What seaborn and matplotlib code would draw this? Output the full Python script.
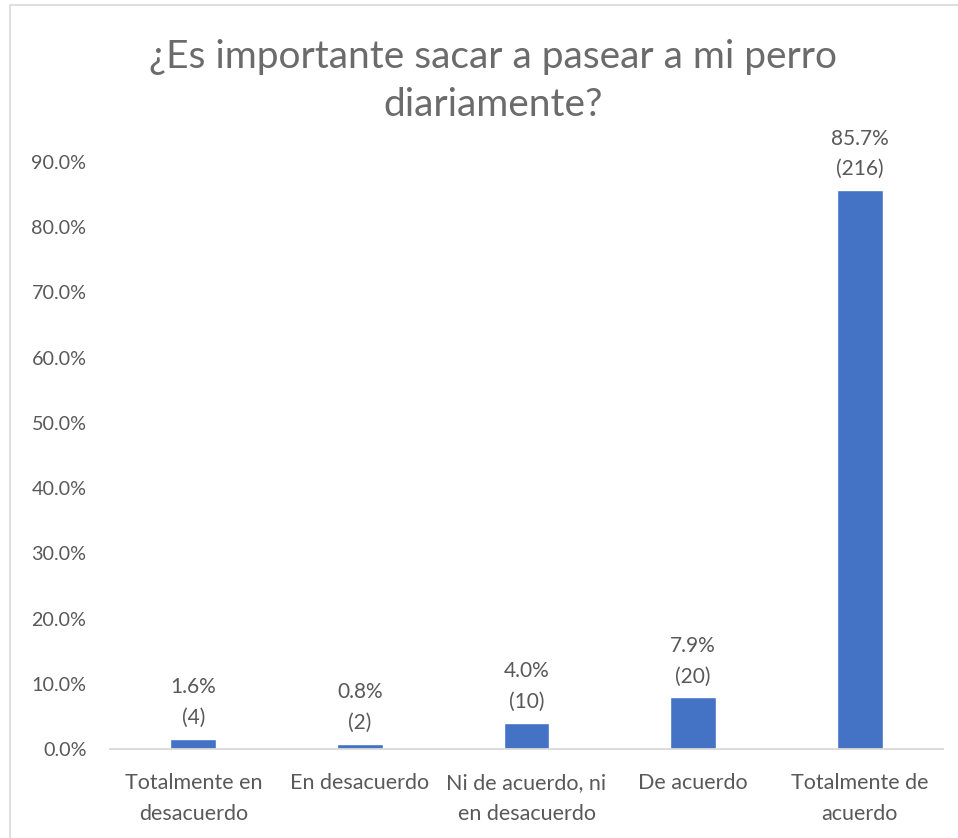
import numpy as np
import pandas as pd
import matplotlib
matplotlib.use('Agg')
import matplotlib.pyplot as plt
import matplotlib.ticker as mticker
from matplotlib.patches import Rectangle
import seaborn as sns

categorias = ["Totalmente en\ndesacuerdo", "En desacuerdo", "Ni de acuerdo, ni\nen desacuerdo",
              "De acuerdo", "Totalmente de\nacuerdo"]
porcentajes = [1.6, 0.8, 4.0, 7.9, 85.7]
conteos = [4, 2, 10, 20, 216]
titulo = "¿Es importante sacar a pasear a mi perro\ndiariamente?"

sns.set_style('white')
plt.rcParams['font.family'] = ['Lato', 'DejaVu Sans']
gris = '#595959'

df = pd.DataFrame({'cat': categorias, 'pct': porcentajes})

fig = plt.figure(figsize=(9.58, 8.38), dpi=100)
ax = fig.add_axes([110/958, 1-749/838, (943-110)/958, (749-162)/838])

sns.barplot(data=df, x='cat', y='pct', color='#4472C4', saturation=1, width=0.275, ax=ax)

ax.set_ylim(0, 90)
ax.set_yticks(np.arange(0, 91, 10))
ax.yaxis.set_major_formatter(mticker.FuncFormatter(lambda v, p: f"{v:.1f}%"))
ax.set_xlabel("")
ax.set_ylabel("")
for s in ['top', 'right', 'left']:
    ax.spines[s].set_visible(False)
ax.spines['bottom'].set_color('#d9d9d9')
ax.spines['bottom'].set_linewidth(1.3)
ax.tick_params(axis='both', length=0, colors=gris)
ax.tick_params(axis='y', pad=17, labelsize=14.2)
ax.tick_params(axis='x', pad=17, labelsize=15.5)
for lbl in ax.get_xticklabels():
    lbl.set_linespacing(1.7)

etiquetas = [f"{p:.1f}%\n({c})" for p, c in zip(porcentajes, conteos)]
ax.bar_label(ax.containers[0], labels=etiquetas, padding=8, fontsize=15, color=gris,
             linespacing=1.65, annotation_clip=False)

fig.text(493/958, 1-81/838, titulo, ha='center', va='center', fontsize=28,
         color='#6b6b6b', linespacing=1.4)

fig.patches.append(Rectangle((10/958, -0.1), 1.2, 1-5/838+0.1, transform=fig.transFigure,
                             fill=False, edgecolor='#d9d9d9', linewidth=1.2))

fig.savefig('out.png', dpi=100, facecolor='white')
